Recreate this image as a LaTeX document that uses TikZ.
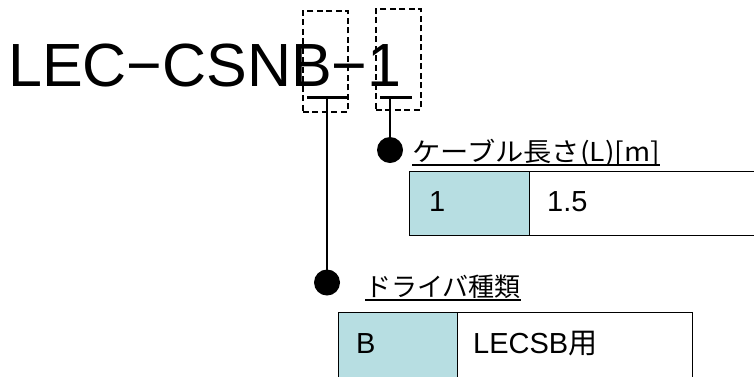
\documentclass[tikz,border=0pt]{standalone}
\usepackage{fontspec}
\setmainfont{Liberation Sans}
\newfontfamily\jp{Noto Sans CJK JP}
\definecolor{cellteal}{RGB}{183,222,226}
\begin{document}
\begin{tikzpicture}[x=1pt,y=-1pt,
  dashbox/.style={draw, dashed, dash pattern=on 6pt off 3.5pt, line width=1.5pt, inner sep=0, anchor=north west},
  bar/.style={line width=3pt},
  conn/.style={line width=2pt},
  dot/.style={circle, fill=black, inner sep=0, minimum size=26pt},
  cellA/.style={draw=black, line width=1.2pt, fill=cellteal, anchor=north west, inner sep=0},
  cellB/.style={draw=black, line width=1.2pt, fill=white, anchor=north west, inner sep=0},
  lbl/.style={anchor=base west, inner sep=0, font=\jp\fontsize{26}{26}\selectfont},
  celltxt/.style={anchor=base west, inner sep=0, font=\fontsize{29}{29}\selectfont},
  uline/.style={line width=2pt}]
\useasboundingbox (0,0) rectangle (754,376);
\clip (0,0) rectangle (754,376);
% title
\node[anchor=base west, inner sep=0, font=\fontsize{61}{61}\selectfont] (title) at (8,86) {LEC−CSNB−1};
% dashed boxes
\node[dashbox, minimum width=45pt, minimum height=101pt] (boxB) at (302,10) {};
\node[dashbox, minimum width=45pt, minimum height=101pt] (box1) at (375,8) {};
% bars
\coordinate (barBl) at (307,97); \coordinate (barBr) at (347,97);
\coordinate (bar1l) at (380,97); \coordinate (bar1r) at (412,97);
\draw[bar] (barBl) -- (barBr);
\draw[bar] (bar1l) -- (bar1r);
\coordinate (barB) at (327,97);
\coordinate (bar1) at (390,97);
% dots
\node[dot] (dot1) at (390,150) {};
\node[dot] (dotB) at (327,282.5) {};
\draw[conn] (bar1) -- (dot1.center);
\draw[conn] (barB) -- (dotB.center);
% label 1
\node[lbl] (lab1) at (412,161) {\scalebox{1.088}[1]{ケーブル長さ(L)[m]}};
\draw[uline] (lab1.south west |- 0,165) -- (lab1.south east |- 0,165);
% top table
\node[cellA, minimum width=120pt, minimum height=64pt] (t1a) at (409,171) {};
\node[cellB, minimum width=260pt, minimum height=64pt] (t1b) at (529,171) {};
\node[celltxt] (t1at) at (429,211.5) {1};
\node[celltxt] (t1bt) at (547,211.5) {1.5};
% label 2
\node[lbl] (lab2) at (365,296.5) {ドライバ種類};
\draw[uline] (lab2.south west |- 0,300) -- (lab2.south east |- 0,300);
% bottom table
\node[cellA, minimum width=119pt, minimum height=80pt] (t2a) at (338,312) {};
\node[cellB, minimum width=235pt, minimum height=80pt] (t2b) at (457,312) {};
\node[celltxt] (t2at) at (356,353) {B};
\node[celltxt] (t2bt) at (473,353) {LECSB{\jp 用}};
\end{tikzpicture}
\end{document}
